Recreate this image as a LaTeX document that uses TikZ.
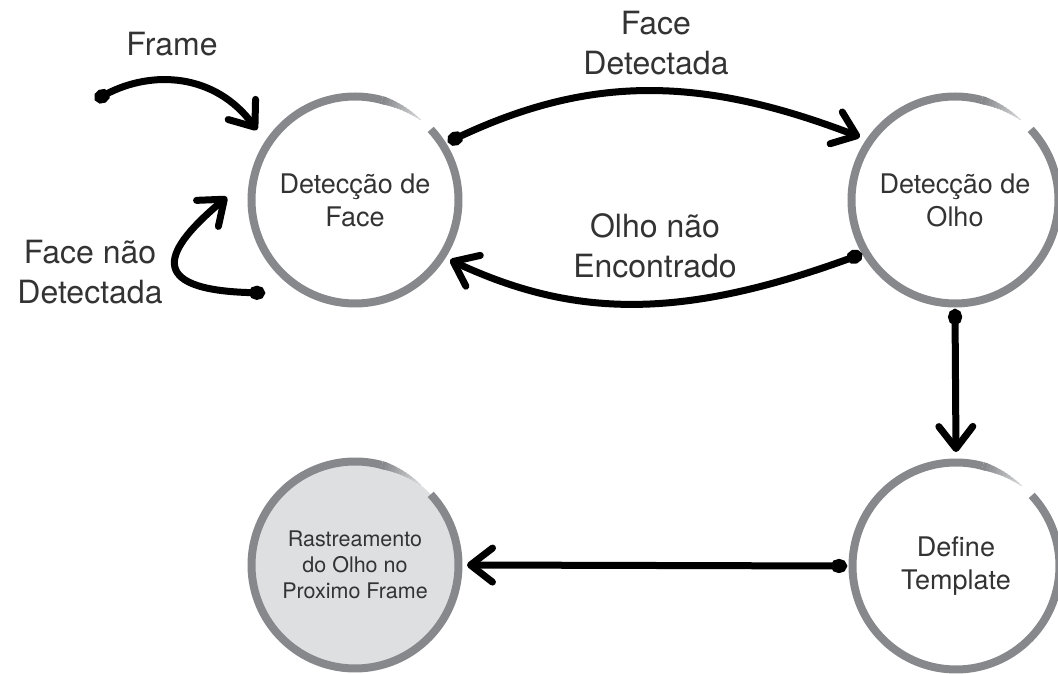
\documentclass[tikz,border=0pt]{standalone}
\usepackage{fontspec}
\setmainfont{TeX Gyre Heros}
\usetikzlibrary{arrows.meta}
\definecolor{ringgray}{HTML}{86888C}
\definecolor{trackfill}{HTML}{DEDFE1}
\definecolor{inkgray}{HTML}{333333}

\begin{document}
\begin{tikzpicture}[x=1pt,y=1pt,
  state/.style={circle, minimum size=207pt, inner sep=0pt, outer sep=0pt,
    align=center, text=inkgray, font=\fontsize{27}{33}\selectfont},
  ringline/.style={draw=ringgray, line width=8pt},
  tag/.style={align=center, inner sep=0pt, text=inkgray,
    font=\fontsize{32}{40}\selectfont},
  flow/.style={line width=7pt, line cap=round,
    {Circle[length=16pt,width=14pt]}-{Straight Barb[length=22pt,width=34pt,round]}},
]
\useasboundingbox (0,0) rectangle (1058,673);

% states
\node[state] (face) at (355,473) {Detecção de\\Face};
\node[state] (eye)  at (955,473) {Detecção de\\Olho};
\node[state] (tmpl) at (956,107) {Define\\Template};
\node[state, fill=trackfill, font=\fontsize{21.5}{26}\selectfont] (track) at (355,108)
  {Rastreamento\\do Olho no\\Proximo Frame};

% brush-like rings: open at the upper right, tapering at one end
\foreach \n in {face,eye,tmpl,track}{
  \draw[ringline] ([shift={(43:103.5pt)}]\n.center)
    arc[start angle=43, end angle=-285, radius=103.5pt];
  \foreach \k [evaluate=\k as \shade using int(100-6*\k)] in {0,...,11}{
    \draw[draw=ringgray!\shade, line width={8pt-0.62pt*\k}, line cap=butt]
      ([shift={({-285-2*\k}:103.5pt)}]\n.center)
      arc[start angle={-285-2*\k}, end angle={-287.3-2*\k}, radius=103.5pt];
  }
}

% edge labels
\node[tag, anchor=base] (lframe) at (172,617) {Frame};
\node[tag] (lfd)   at (656,630)   {Face\\Detectada};
\node[tag] (lfnd)  at (90,401)    {Face não\\Detectada};
\node[tag] (lnone) at (655,427.5) {Olho não\\Encontrado};

% transitions
\coordinate (framein) at (95,573);
\draw[flow] (framein) .. controls +(57,30) and +(-42,57) .. ([shift={(-98,70)}]face.center);
\draw[flow] ([shift={(-90,-93)}]face.center) .. controls +(-123,3) and +(-62,-52) .. ([shift={(-128,3)}]face.center);
\draw[flow] ([shift={(93,58)}]face.center) .. controls +(143,67) and +(-159,61) .. ([shift={(-95,63)}]eye.center);
\draw[flow] ([shift={(-93,-54)}]eye.center) .. controls +(-180,-65.5) and +(125,-58.5) .. ([shift={(95,-60)}]face.center);
\draw[flow] ([shift={(0,-109)}]eye.center) -- ([shift={(0,114)}]tmpl.center);
\draw[flow] ([shift={(-109,0)}]tmpl.center) -- ([shift={(112,0)}]track.center);
\end{tikzpicture}
\end{document}
